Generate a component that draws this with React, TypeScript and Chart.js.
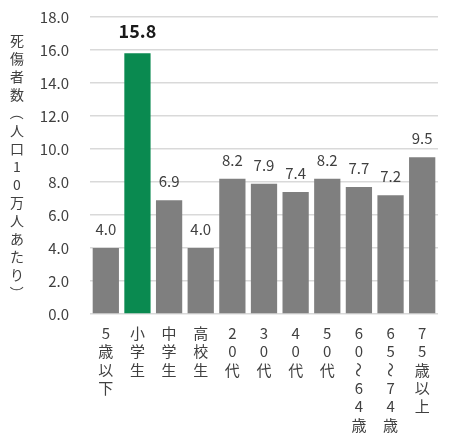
import React, { useEffect, useRef } from "react";
import { Chart, registerables } from "chart.js";

Chart.register(...registerables);

const categories: string[] = [
  "5歳以下",
  "小学生",
  "中学生",
  "高校生",
  "20代",
  "30代",
  "40代",
  "50代",
  "60～64歳",
  "65～74歳",
  "75歳以上",
];
const values: number[] = [4.0, 15.8, 6.9, 4.0, 8.2, 7.9, 7.4, 8.2, 7.7, 7.2, 9.5];
const highlightIndex = 1;
const yTitle = "死傷者数（人口10万人あたり）";
const yMin = 0;
const yMax = 18;
const yStep = 2;

const FONT = '"Noto Sans CJK JP", "Noto Sans", sans-serif';
const TEXT = "#404040";
const GRAY = "#7f7f7f";
const GREEN = "#0a8a50";
const ROTATED = new Set(["（", "）", "～"]);

function drawVerticalText(ctx: any, text: string, x: number, y0: number, step: number) {
  Array.from(text).forEach((c, i) => {
    const y = y0 + i * step;
    if (ROTATED.has(c)) {
      ctx.save();
      ctx.translate(x, y);
      ctx.rotate(Math.PI / 2);
      ctx.fillText(c, 0, 0);
      ctx.restore();
    } else {
      ctx.fillText(c, x, y);
    }
  });
}

const valueLabels = {
  id: "valueLabels",
  afterDatasetsDraw(chart: any) {
    const ctx = chart.ctx;
    const meta = chart.getDatasetMeta(0);
    ctx.save();
    ctx.textAlign = "center";
    ctx.textBaseline = "alphabetic";
    meta.data.forEach((bar: any, i: number) => {
      const v = values[i];
      if (i === highlightIndex) {
        ctx.font = `bold 18px ${FONT}`;
        ctx.fillStyle = "#1a1a1a";
        ctx.fillText(v.toFixed(1), bar.x, bar.y - 15);
      } else {
        ctx.font = `15px ${FONT}`;
        ctx.fillStyle = TEXT;
        ctx.fillText(v.toFixed(1), bar.x, bar.y - 13);
      }
    });
    ctx.restore();
  },
};

const verticalTexts = {
  id: "verticalTexts",
  afterDraw(chart: any) {
    const ctx = chart.ctx;
    ctx.save();
    ctx.fillStyle = TEXT;
    ctx.textAlign = "center";
    ctx.textBaseline = "middle";
    ctx.font = `14px ${FONT}`;
    drawVerticalText(ctx, yTitle, 17, 41, 18);
    const xs = chart.scales.x;
    const top = chart.chartArea.bottom + 19;
    ctx.font = `15px ${FONT}`;
    categories.forEach((label, i) => {
      drawVerticalText(ctx, label, xs.getPixelForTick(i), top, 18.4);
    });
    ctx.restore();
  },
};

export default function App() {
  const ref = useRef<HTMLCanvasElement | null>(null);
  useEffect(() => {
    if (!ref.current) return;
    const chart = new Chart(ref.current, {
      type: "bar",
      data: {
        labels: categories,
        datasets: [
          {
            data: values,
            backgroundColor: values.map((_, i) => (i === highlightIndex ? GREEN : GRAY)),
            barPercentage: 0.83,
            categoryPercentage: 1,
          },
        ],
      },
      options: {
        animation: false,
        responsive: true,
        maintainAspectRatio: false,
        layout: { padding: { top: 17, right: 12, left: 0, bottom: 0 } },
        plugins: { legend: { display: false }, tooltip: { enabled: false } },
        scales: {
          x: {
            grid: { display: false, drawTicks: false },
            border: { display: false },
            ticks: { display: false },
            afterFit(scale: any) {
              scale.height = 123;
            },
          },
          y: {
            min: yMin,
            max: yMax,
            grid: {
              color: "#d9d9d9",
              lineWidth: 1.5,
              drawTicks: true,
              tickLength: 18,
              tickColor: "rgba(0,0,0,0)",
            },
            border: { display: false },
            ticks: {
              stepSize: yStep,
              color: TEXT,
              font: { family: FONT, size: 15 },
              padding: 3,
              callback: (v: any) => Number(v).toFixed(1),
            },
            afterFit(scale: any) {
              scale.width = 90;
            },
          },
        },
      },
      plugins: [valueLabels, verticalTexts],
    });
    return () => chart.destroy();
  }, []);
  return (
    <div style={{ position: "absolute", left: 0, top: 0, width: 450, height: 437, background: "#fff" }}>
      <canvas ref={ref} />
    </div>
  );
}
